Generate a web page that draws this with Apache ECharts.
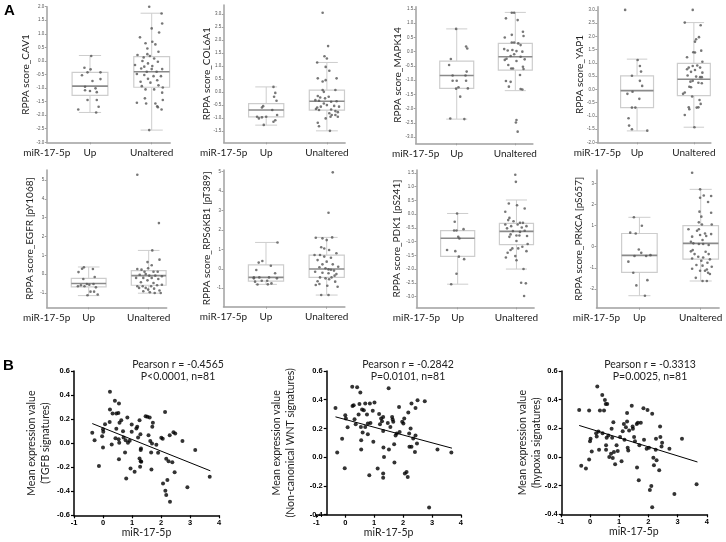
<!DOCTYPE html>
<html><head><meta charset="utf-8">
<script src="https://cdn.jsdelivr.net/npm/echarts@6/dist/echarts.min.js"></script>
<style>html,body{margin:0;padding:0;background:#fff}#c{width:726px;height:542px}</style>
</head><body><div id="c"></div>
<script>
// ---------- DATA ----------
const catLabels = ['miR-17-5p', 'Up', 'Unaltered'];
const catLabelPos = [-0.7, 0, 1];
const catTickPos = [0, 1];

// box stats: [min whisker, Q1, median, Q3, max whisker] for Up, Unaltered
const CAV1_box = [[-1.9, -1.27, -0.93, -0.42, 0.2], [-2.55, -0.97, -0.40, 0.16, 1.76]];
const COL6A1_box = [[-1.27, -0.95, -0.69, -0.44, 0.2], [-1.49, -0.69, -0.35, 0.08, 1.14]];
const MAPK14_box = [[-2.37, -1.29, -0.84, -0.33, 0.80], [-1.37, -0.65, -0.18, 0.29, 1.38]];
const YAP1_box = [[-1.57, -0.69, -0.05, 0.51, 1.14], [-1.43, -0.24, 0.38, 0.98, 2.52]];
const EGFR_box = [[-1.14, -0.68, -0.50, -0.22, 0.38], [-1.01, -0.59, -0.08, 0.19, 1.26]];
const RPS6KB1_box = [[-0.80, -0.63, -0.44, 0.20, 1.36], [-1.35, -0.44, -0.01, 0.71, 1.62]];
const PDK1_box = [[-2.55, -1.54, -0.88, -0.60, 0.02], [-2.00, -1.11, -0.63, -0.34, 0.51]];
const PRKCA_box = [[-2.33, -1.22, -0.41, 0.63, 1.40], [-1.63, -0.59, 0.16, 1.00, 2.73]];

// points: [jitter, value]
const CAV1_up = [[0.02,0.18],[-0.09,-0.25],[0.01,-0.31],[-0.04,-0.42],[0.17,-0.42],[-0.13,-0.53],[0.17,-0.67],[0.04,-0.74],[-0.08,-0.95],[0.09,-1.01],[-0.08,-1.08],[0,-1.11],[0.11,-1.15],[-0.04,-1.44],[0.11,-1.44],[0.14,-1.69],[-0.19,-1.79],[0.10,-1.9]];
const CAV1_un = [[-0.04,2.0],[0.16,1.75],[0.17,1.38],[0,1.2],[0.12,1.05],[-0.19,0.87],[0.01,0.71],[-0.10,0.65],[0.06,0.61],[-0.07,0.46],[0.11,0.34],[-0.07,0.25],[-0.23,0.22],[-0.03,0.18],[-0.13,0.13],[0.04,0.09],[-0.15,0.0],[0.10,-0.03],[-0.06,-0.09],[-0.27,-0.15],[0.01,-0.19],[-0.12,-0.21],[-0.17,-0.28],[0,-0.30],[0.17,-0.30],[-0.08,-0.40],[0.08,-0.40],[-0.24,-0.48],[-0.12,-0.52],[0.03,-0.56],[0.15,-0.56],[-0.06,-0.66],[0.09,-0.71],[-0.18,-0.77],[-0.02,-0.80],[0.11,-0.90],[-0.16,-0.93],[0.18,-0.98],[0.04,-1.05],[-0.10,-1.05],[0.17,-1.17],[-0.11,-1.38],[-0.24,-1.54],[-0.09,-1.57],[0.06,-1.57],[0.18,-1.44],[0.09,-1.67],[0.10,-1.71],[0.16,-1.79],[-0.04,-2.55]];
const COL6A1_up = [[0.12,0.2],[0.15,-0.03],[0.13,-0.18],[0.17,-0.33],[-0.05,-0.54],[-0.07,-0.59],[0.10,-0.69],[-0.15,-0.95],[-0.07,-0.97],[0,-0.95],[0.18,-0.88],[-0.12,-1.01],[0.15,-1.08],[-0.04,-1.26],[0.12,-1.14]];
const COL6A1_un = [[-0.07,3.05],[0.02,1.77],[-0.04,1.38],[0,1.29],[-0.16,1.14],[-0.02,0.97],[0.04,0.82],[-0.02,0.46],[-0.15,0.53],[-0.07,0.41],[0.16,0.53],[-0.07,0.08],[-0.05,0.01],[0.14,0.08],[-0.15,-0.15],[-0.11,-0.21],[-0.03,-0.24],[0.03,-0.18],[-0.19,-0.31],[-0.13,-0.33],[0.07,-0.37],[0.16,-0.35],[-0.05,-0.44],[0,-0.50],[0.12,-0.53],[0.20,-0.56],[-0.16,-0.59],[-0.10,-0.56],[0.07,-0.67],[-0.13,-0.69],[-0.18,-0.65],[0.14,-0.73],[0.18,-0.77],[0.04,-0.81],[0.14,-0.88],[0.06,-0.95],[-0.02,-1.01],[0.18,-0.95],[0.08,-0.88],[-0.15,-1.18],[-0.13,-1.31],[0.05,-1.49]];
const MAPK14_up = [[-0.01,0.80],[0.16,0.18],[0.18,0.11],[-0.10,-0.26],[-0.13,-0.47],[-0.07,-0.84],[0.17,-0.70],[0.15,-0.84],[0,-1.02],[-0.07,-1.02],[0.16,-1.02],[0.03,-1.25],[-0.01,-1.30],[0.19,-1.29],[0.06,-1.58],[-0.11,-2.35],[0.13,-2.37]];
const MAPK14_un = [[-0.06,1.37],[-0.02,1.37],[-0.16,1.17],[0.04,1.11],[0.13,0.70],[-0.06,0.59],[-0.18,0.50],[0.14,0.55],[-0.06,0.32],[-0.02,0.32],[0.05,0.29],[0.09,0.23],[-0.19,0.09],[-0.05,0.06],[0.02,0.02],[0.12,0.0],[-0.13,0.04],[-0.02,-0.09],[-0.08,-0.15],[0.09,-0.18],[-0.15,-0.25],[-0.18,-0.29],[0.02,-0.33],[0.16,-0.27],[-0.12,-0.47],[-0.07,-0.59],[-0.04,-0.59],[0.13,-0.53],[0.14,-0.61],[0.08,-0.82],[-0.16,-1.03],[-0.08,-1.06],[-0.11,-1.23],[0.09,-1.31],[0.12,-1.33],[0.02,-2.40],[0.01,-2.49],[0.04,-2.81]];
const YAP1_up = [[-0.21,3.0],[0.01,1.11],[0.05,0.88],[0.07,0.67],[-0.09,0.51],[0.05,0.32],[0.09,0.13],[-0.08,-0.09],[-0.17,-0.17],[0.04,-0.36],[-0.09,-0.69],[-0.03,-0.69],[-0.15,-1.09],[-0.14,-1.37],[-0.09,-1.51],[0.18,-1.56]];
const YAP1_un = [[-0.02,3.0],[-0.16,2.52],[0.12,2.42],[0.04,1.89],[0.09,1.97],[0.02,1.80],[0.13,1.46],[-0.01,1.40],[0.02,1.39],[-0.12,1.21],[0.15,1.04],[-0.02,0.88],[-0.09,0.82],[0.06,0.90],[0.11,0.82],[-0.12,0.76],[0.02,0.73],[-0.05,0.66],[0.15,0.63],[-0.11,0.52],[0.04,0.48],[0.11,0.46],[0.14,0.46],[-0.02,0.32],[-0.06,0.29],[0.08,0.25],[0.14,0.23],[-0.08,0.10],[-0.05,0.08],[-0.16,-0.12],[-0.19,-0.17],[-0.03,-0.27],[0.10,-0.40],[0.12,-0.55],[0.08,-0.68],[-0.09,-0.68],[-0.08,-0.75],[0.05,-0.69],[-0.16,-0.97],[0.01,-1.43]];
const EGFR_up = [[-0.08,0.36],[-0.11,0.29],[0.07,0.27],[-0.17,0.11],[0.10,-0.15],[-0.09,-0.26],[-0.03,-0.52],[-0.13,-0.59],[0.01,-0.56],[0.08,-0.52],[-0.18,-0.64],[-0.07,-0.64],[0.12,-0.70],[0.03,-0.93],[0.09,-0.93],[0.15,-1.08],[-0.02,-1.12]];
const EGFR_un = [[-0.19,5.28],[0.17,2.71],[0.06,1.26],[0.18,0.77],[-0.02,0.64],[0.05,0.47],[-0.19,0.27],[-0.12,0.24],[-0.01,0.31],[-0.07,0.13],[0.08,0.13],[0.15,0.13],[-0.15,-0.03],[-0.05,0.01],[0.01,-0.08],[0.11,-0.08],[0.22,-0.11],[-0.21,-0.20],[-0.09,-0.20],[0.05,-0.20],[0.16,-0.26],[-0.02,-0.33],[-0.13,-0.43],[0.08,-0.47],[0.22,-0.56],[0.14,-0.59],[-0.19,-0.64],[-0.10,-0.64],[0.04,-0.64],[-0.16,-0.73],[-0.05,-0.73],[-0.01,-0.82],[0.09,-0.77],[-0.09,-0.91],[0.18,-0.87],[0.02,-0.96],[0.10,-1.00],[0.20,-1.00]];
const RPS6KB1_up = [[0.19,1.36],[-0.12,0.32],[-0.06,0.40],[0.08,0.16],[-0.16,-0.06],[0.15,-0.23],[-0.2,-0.44],[-0.20,-0.49],[-0.11,-0.44],[0.05,-0.44],[0.18,-0.49],[-0.18,-0.66],[-0.07,-0.61],[0.02,-0.61],[0.09,-0.75],[-0.14,-0.81],[0.03,-0.80]];
const RPS6KB1_un = [[0.10,4.97],[0.03,2.89],[-0.18,1.60],[-0.07,1.57],[0.09,1.62],[0,1.48],[-0.09,1.11],[-0.04,1.05],[0.04,0.97],[-0.20,0.71],[-0.11,0.71],[0.16,0.80],[-0.04,0.63],[0.07,0.57],[-0.15,0.45],[0,0.37],[-0.07,0.23],[0.10,0.23],[0.19,0.11],[-0.12,0.08],[-0.02,0.03],[0.03,-0.03],[0.07,-0.05],[0.12,-0.09],[-0.19,-0.15],[-0.07,-0.20],[0.03,-0.23],[0.16,-0.27],[-0.11,-0.44],[0.08,-0.44],[0.13,-0.35],[-0.02,-0.49],[0.04,-0.54],[-0.15,-0.64],[0.14,-0.66],[-0.12,-0.78],[0.01,-0.87],[0.18,-0.92],[-0.18,-0.83],[-0.09,-1.35],[0.03,-1.35]];
const PDK1_up = [[-0.01,0.02],[-0.05,-0.28],[-0.06,-0.60],[-0.02,-0.60],[0.10,-0.55],[0.01,-0.83],[0.03,-0.89],[-0.18,-1.31],[-0.04,-1.35],[0.02,-1.55],[0.11,-1.64],[-0.02,-2.17],[-0.11,-2.55]];
const PDK1_un = [[-0.02,1.43],[-0.01,1.17],[-0.13,0.38],[0.01,0.32],[-0.19,0.08],[0.14,0.20],[-0.12,-0.14],[-0.14,-0.22],[-0.05,-0.26],[0.06,-0.32],[0.11,-0.32],[-0.19,-0.38],[0.02,-0.38],[-0.09,-0.44],[0.17,-0.44],[-0.16,-0.52],[0.09,-0.49],[-0.06,-0.62],[0.06,-0.65],[0.14,-0.61],[-0.10,-0.74],[0,-0.78],[0.05,-0.78],[0.18,-0.80],[-0.12,-0.83],[0,-0.98],[0.19,-1.09],[0.10,-1.19],[-0.07,-1.25],[-0.10,-1.31],[0.17,-1.35],[0.03,-1.25],[-0.15,-1.41],[-0.02,-1.53],[-0.18,-1.58],[0,-1.68],[0.12,-2.00],[0.08,-2.50],[0.16,-2.52],[0.13,-2.98]];
const PRKCA_up = [[-0.09,1.40],[0.04,1.00],[-0.15,0.67],[-0.06,0.63],[-0.01,-0.13],[0.03,-0.29],[-0.08,-0.44],[0.11,-0.44],[0.18,-0.40],[-0.18,-0.71],[-0.10,-1.24],[0.13,-1.59],[-0.05,-1.84],[0.09,-2.33]];
const PRKCA_un = [[-0.14,3.52],[-0.01,2.73],[0.05,2.44],[0.17,2.41],[-0.01,2.33],[0.12,2.13],[0.17,1.62],[-0.02,1.67],[0.01,1.43],[-0.03,1.16],[0.02,1.06],[0.18,1.06],[-0.20,0.83],[-0.03,0.83],[-0.06,0.76],[0.07,0.63],[0.17,0.60],[-0.14,0.48],[-0.01,0.56],[0.09,0.51],[0.03,0.32],[-0.16,0.24],[-0.12,0.16],[-0.03,0.13],[0.04,0.13],[0.13,0.08],[-0.13,-0.16],[-0.16,-0.22],[0.08,-0.24],[-0.10,-0.35],[0.13,-0.35],[-0.04,-0.48],[0.04,-0.51],[-0.14,-0.56],[0.01,-0.67],[0.15,-0.60],[0.11,-0.76],[-0.07,-0.87],[0.03,-0.90],[0.18,-0.95],[-0.14,-1.05],[0.10,-1.08],[-0.01,-1.14],[0.07,-1.14],[0.12,-1.24],[0.15,-1.30],[-0.08,-1.48],[0.03,-1.63],[0.10,-1.63]];

// y tick labels
const CAV1_ticks = [-3.0,-2.5,-2.0,-1.5,-1.0,-0.5,0.0,0.5,1.0,1.5,2.0];
const COL6A1_ticks = [-1.5,-1.0,-0.5,0.0,0.5,1.0,1.5,2.0,2.5,3.0];
const MAPK14_ticks = [-3.0,-2.5,-2.0,-1.5,-1.0,-0.5,0.0,0.5,1.0,1.5];
const YAP1_ticks = [-2.0,-1.5,-1.0,-0.5,0.0,0.5,1.0,1.5,2.0,2.5,3.0];
const EGFR_ticks = [-1,0,1,2,3,4,5];
const RPS6KB1_ticks = [-1,0,1,2,3,4,5];
const PDK1_ticks = [-3.0,-2.5,-2.0,-1.5,-1.0,-0.5,0.0,0.5,1.0,1.5];
const PRKCA_ticks = [-2,-1,0,1,2,3];

// Panel B scatter data [miR-17-5p, mean expression]
const TGFB_pts = [[-0.37,0.086],[-0.29,0.025],[-0.14,-0.19],[-0.03,0.058],[0,-0.036],[0.01,0.094],[0.07,0.158],[0.0,0.116],[0.23,0.175],[0.24,0.427],[0.24,0.28],[0.33,0.246],[0.30,-0.011],[0.41,0.352],[0.46,0.246],[0.55,0.33],[0.53,0.25],[0.43,0.04],[0.46,0.12],[0.57,0.17],[0.63,0.19],[0.54,0.033],[0.56,0.003],[0.55,-0.133],[0.69,0.10],[0.71,0.047],[0.78,0.025],[0.76,-0.078],[0.80,-0.294],[0.84,0.213],[0.86,0.003],[0.92,0.019],[0.95,-0.21],[0.99,0.155],[0.99,0.094],[1.09,-0.238],[1.15,0.122],[1.18,0.136],[1.21,0.047],[1.26,0.19],[1.29,0.075],[1.31,-0.044],[1.30,-0.058],[1.26,-0.127],[1.30,-0.15],[1.28,-0.197],[1.32,-0.155],[1.47,0.224],[1.53,0.219],[1.57,0.066],[1.61,0.213],[1.63,0.017],[1.66,-0.078],[1.67,-0.219],[1.69,-0.003],[1.70,0.136],[1.72,0.169],[1.84,-0.014],[1.90,-0.08],[2.01,0.044],[2.06,0.036],[2.07,-0.335],[2.14,0.26],[2.15,-0.396],[2.18,-0.432],[2.18,-0.13],[2.22,-0.307],[2.26,-0.15],[2.30,0.066],[2.31,-0.488],[2.39,-0.158],[2.43,0.091],[2.49,0.08],[2.47,-0.241],[2.74,0.017],[2.91,-0.366],[3.18,-0.058],[3.68,-0.28]];
const WNT_pts = [[-0.34,0.343],[-0.28,0.032],[-0.11,0.128],[-0.02,-0.077],[0,0.292],[0.02,0.269],[0.08,0.209],[0.24,0.49],[0.25,0.357],[0.29,0.362],[0.32,0.265],[0.36,0.23],[0.41,0.487],[0.46,0.297],[0.49,0.371],[0.52,0.45],[0.54,0.211],[0.55,0.118],[0.58,0.332],[0.55,0.053],[0.60,0.172],[0.64,0.327],[0.69,0.374],[0.69,0.211],[0.75,0.297],[0.78,0.234],[0.78,0.16],[0.83,-0.125],[0.85,0.374],[0.87,0.239],[0.95,0.323],[0.97,0.107],[1.01,0.38],[1.12,-0.079],[1.17,0.30],[1.20,0.23],[1.24,0.269],[1.27,0.25],[1.31,0.28],[1.32,0.067],[1.31,0.183],[1.34,0.002],[1.31,-0.114],[1.31,-0.142],[1.47,0.239],[1.50,0.48],[1.51,0.053],[1.56,0.211],[1.62,0.28],[1.64,0.262],[1.66,0.246],[1.69,0.09],[1.70,-0.037],[1.74,0.151],[1.78,0.165],[1.86,0.35],[1.88,0.176],[1.97,0.246],[2.01,0.234],[2.04,0.269],[2.06,-0.114],[2.12,-0.102],[2.16,-0.137],[2.18,0.311],[2.21,0.165],[2.22,0.072],[2.26,0.2],[2.29,0.374],[2.29,0.072],[2.35,0.13],[2.41,0.037],[2.43,0.343],[2.43,0.151],[2.48,0.095],[2.50,0.397],[2.75,0.39],[2.90,-0.35],[3.19,0.053],[3.67,0.032]];
const HYPOXIA_pts = [[-0.37,0.328],[-0.30,-0.062],[-0.14,-0.081],[-0.03,-0.018],[-0.03,0.324],[0,0.109],[0.02,0.127],[0.06,0.039],[0.21,0.166],[0.23,0.143],[0.25,0.492],[0.29,0.178],[0.31,0.051],[0.34,0.324],[0.42,0.432],[0.43,0.166],[0.48,0.324],[0.51,0.397],[0.54,0.37],[0.55,0.051],[0.55,0.081],[0.57,0.134],[0.59,0.37],[0.63,0.15],[0.66,0],[0.72,0.023],[0.74,0.197],[0.76,0.134],[0.78,-0.007],[0.80,0.243],[0.82,0.035],[0.86,-0.051],[0.91,0.081],[0.95,0.042],[1.03,0.139],[1.08,-0.03],[1.12,0.18],[1.16,0.231],[1.18,0.12],[1.23,0.208],[1.27,0.307],[1.27,0.247],[1.29,0.065],[1.31,0.046],[1.34,0.185],[1.43,0.358],[1.46,0.213],[1.47,0.197],[1.51,0.139],[1.54,0.109],[1.60,0.231],[1.61,-0.074],[1.64,0.238],[1.67,-0.162],[1.69,0.081],[1.74,0.238],[1.83,0.34],[1.85,0.12],[1.94,0.058],[1.97,0.328],[2.02,0.065],[2.05,-0.231],[2.10,-0.203],[2.13,0.301],[2.13,-0.351],[2.17,-0.005],[2.19,-0.058],[2.25,0.051],[2.26,0.127],[2.28,-0.023],[2.37,-0.092],[2.40,0.213],[2.41,0.139],[2.45,0.074],[2.47,0.099],[2.72,0.058],[2.89,-0.259],[3.15,0.127],[3.65,-0.19]];
// regression lines (end points)
const TGFB_fit = [[-0.37,0.163],[3.70,-0.23]];
const WNT_fit = [[-0.34,0.281],[3.69,0.063]];
const HYPOXIA_fit = [[-0.37,0.22],[3.68,-0.035]];
const statsText = [
  ['Pearson r = -0.4565', 'P<0.0001, n=81'],
  ['Pearson r = -0.2842', 'P=0.0101, n=81'],
  ['Pearson r = -0.3313', 'P=0.0025, n=81']
];

// ---------- LAYOUT ----------
const panelsA = [
  {name:'RPPA score_CAV1', box:CAV1_box, up:CAV1_up, un:CAV1_un, ticks:CAV1_ticks, dec:1, left:46.8, width:123.4, top:6.7, bottom:142.3, min:-3.0, max:2.0, gap:16},
  {name:'RPPA score_COL6A1', box:COL6A1_box, up:COL6A1_up, un:COL6A1_un, ticks:COL6A1_ticks, dec:1, left:223.7, width:121.4, top:5, bottom:142.3, min:-1.93, max:3.35, gap:12},
  {name:'RPPA score_MAPK14', box:MAPK14_box, up:MAPK14_up, un:MAPK14_un, ticks:MAPK14_ticks, dec:1, left:415.7, width:117.2, top:6.7, bottom:143.3, min:-3.22, max:1.58, gap:13},
  {name:'RPPA score_YAP1', box:YAP1_box, up:YAP1_up, un:YAP1_un, ticks:YAP1_ticks, dec:1, left:597.3, width:113.6, top:6.7, bottom:142.3, min:-2.0, max:3.12, gap:13},
  {name:'RPPA score_EGFR [pY1068]', box:EGFR_box, up:EGFR_up, un:EGFR_un, ticks:EGFR_ticks, dec:0, left:46.7, width:120, top:170, bottom:307.3, min:-1.76, max:5.53, gap:11.7},
  {name:'RPPA score_RPS6KB1 [pT389]', box:RPS6KB1_box, up:RPS6KB1_up, un:RPS6KB1_un, ticks:RPS6KB1_ticks, dec:0, left:223.5, width:121.4, top:170, bottom:306.7, min:-1.95, max:5.09, gap:11.5},
  {name:'RPPA score_PDK1 [pS241]', box:PDK1_box, up:PDK1_up, un:PDK1_un, ticks:PDK1_ticks, dec:1, left:416.5, width:117.6, top:170, bottom:307.3, min:-3.39, max:1.6, gap:14.5},
  {name:'RPPA score_PRKCA [pS657]', box:PRKCA_box, up:PRKCA_up, un:PRKCA_un, ticks:PRKCA_ticks, dec:0, left:596.5, width:122.6, top:170, bottom:307.7, min:-2.9, max:3.65, gap:12.7}
];
const panelsB = [
  {name:'Mean expression value\n(TGFB signatures)', pts:TGFB_pts, fit:TGFB_fit, stats:statsText[0], left:74, width:145, bottom:515.3, min:-0.6, yOff:0, gap:21.3, statX:178},
  {name:'Mean expression value\n(Non-canonical WNT signatures)', pts:WNT_pts, fit:WNT_fit, stats:statsText[1], left:316.4, width:144.5, bottom:514.7, min:-0.4, yOff:-10.3, gap:29, statX:408},
  {name:'Mean expression value\n(hypoxia signatures)', pts:HYPOXIA_pts, fit:HYPOXIA_fit, stats:statsText[2], left:560.8, width:146, bottom:514.3, min:-0.4, yOff:-0.9, gap:18, statX:650}
];

const FONT = 'Lato, "Open Sans", sans-serif';
const grids = [], xAxes = [], yAxes = [], series = [], graphics = [];

function fmt(v, dec) {
  if (Math.abs(v) < 1e-9) v = 0;
  return dec ? v.toFixed(dec) : String(Math.round(v));
}

function renderBox(params, api) {
  const c = api.value(0);
  const lo = api.value(1), q1 = api.value(2), md = api.value(3), q3 = api.value(4), hi = api.value(5);
  const HW = 0.29, CW = 0.18;
  const P = (dx, y) => api.coord([c + dx, y]);
  const xc = P(0, 0)[0], xl = P(-HW, 0)[0], xr = P(HW, 0)[0], cl = P(-CW, 0)[0], cr = P(CW, 0)[0];
  const yLo = P(0, lo)[1], yQ1 = P(0, q1)[1], yMd = P(0, md)[1], yQ3 = P(0, q3)[1], yHi = P(0, hi)[1];
  const light = {stroke:'#cdcdcd', lineWidth:1, fill:null};
  return {type:'group', children:[
    {type:'line', shape:{x1:xc, y1:yHi, x2:xc, y2:yQ3}, style:light},
    {type:'line', shape:{x1:xc, y1:yQ1, x2:xc, y2:yLo}, style:light},
    {type:'line', shape:{x1:cl, y1:yHi, x2:cr, y2:yHi}, style:light},
    {type:'line', shape:{x1:cl, y1:yLo, x2:cr, y2:yLo}, style:light},
    {type:'rect', shape:{x:xl, y:yQ3, width:xr - xl, height:yQ1 - yQ3}, style:{stroke:'#cdcdcd', lineWidth:1.2, fill:'#fff'}},
    {type:'line', shape:{x1:xl, y1:yMd, x2:xr, y2:yMd}, style:{stroke:'#8a8a8a', lineWidth:1.6}}
  ]};
}

panelsA.forEach((p, i) => {
  grids.push({left:p.left, top:p.top, width:p.width, height:p.bottom - p.top, outerBoundsMode:'none'});
  xAxes.push({
    gridIndex:i, type:'value', min:-0.7, max:1.3,
    axisLine:{show:true, onZero:false, lineStyle:{color:'#a0a0a0', width:1.5}},
    axisTick:{show:true, customValues:catTickPos, length:2, lineStyle:{color:'#a0a0a0'}},
    axisLabel:{show:true, customValues:catLabelPos,
      formatter:v => { let k = 0; catLabelPos.forEach((q, j) => { if (Math.abs(q - v) < 1e-6) k = j; }); return catLabels[k]; },
      fontFamily:FONT, fontSize:10, color:'#222', margin:5},
    splitLine:{show:false}
  });
  yAxes.push({
    gridIndex:i, type:'value', min:p.min, max:p.max,
    name:p.name, nameLocation:'middle', nameGap:p.gap, nameMoveOverlap:false,
    nameTextStyle:{fontFamily:FONT, fontSize:10, color:'#222'},
    axisLine:{show:true, onZero:false, lineStyle:{color:'#a0a0a0', width:1.5}},
    axisTick:{show:true, customValues:p.ticks, length:2, lineStyle:{color:'#a0a0a0'}},
    axisLabel:{show:true, customValues:p.ticks, formatter:v => fmt(v, p.dec), fontSize:4.5, fontFamily:'Liberation Sans', color:'#555', margin:2.5},
    splitLine:{show:false}
  });
  series.push({type:'custom', xAxisIndex:i, yAxisIndex:i, renderItem:renderBox, silent:true, clip:false,
    data:p.box.map((b, k) => [k].concat(b)), encode:{x:0, y:[1, 2, 3, 4, 5]}, z:1});
  series.push({type:'scatter', xAxisIndex:i, yAxisIndex:i, symbolSize:2.6, silent:true, clip:false, z:2,
    itemStyle:{color:'#555'},
    data:p.up.map(d => [0 + d[0], d[1]]).concat(p.un.map(d => [1 + d[0], d[1]]))});
});

panelsB.forEach((p, j) => {
  const i = panelsA.length + j;
  const top = 371;
  grids.push({left:p.left, top:top, width:p.width, height:p.bottom - top, outerBoundsMode:'none'});
  xAxes.push({
    gridIndex:i, type:'value', min:-1, max:4, interval:1,
    name:'miR-17-5p', nameLocation:'middle', nameGap:12, nameMoveOverlap:false,
    nameTextStyle:{fontFamily:FONT, fontSize:10.5, color:'#222'},
    axisLine:{show:true, onZero:false, lineStyle:{color:'#000', width:1.5}},
    axisTick:{show:true, length:3, lineStyle:{color:'#000', width:1.2}},
    axisLabel:{fontFamily:'Liberation Sans', fontWeight:'bold', fontSize:7.5, color:'#000', margin:4, formatter:v => fmt(v, 0)},
    splitLine:{show:false}
  });
  yAxes.push({
    gridIndex:i, type:'value', min:p.min, max:0.6, interval:0.2, offset:p.yOff,
    name:p.name, nameLocation:'middle', nameGap:p.gap, nameMoveOverlap:false,
    nameTextStyle:{fontFamily:FONT, fontSize:10.5, color:'#222', lineHeight:14, align:'center'},
    axisLine:{show:true, onZero:false, lineStyle:{color:'#000', width:1.5}},
    axisTick:{show:true, length:3, lineStyle:{color:'#000', width:1.2}},
    axisLabel:{fontFamily:'Liberation Sans', fontWeight:'bold', fontSize:7.5, color:'#000', margin:4, formatter:v => fmt(v, 1)},
    splitLine:{show:false}
  });
  series.push({type:'scatter', xAxisIndex:i, yAxisIndex:i, symbolSize:4, silent:true, clip:false,
    itemStyle:{color:'#000'}, data:p.pts});
  series.push({type:'line', xAxisIndex:i, yAxisIndex:i, symbol:'none', silent:true,
    lineStyle:{color:'#000', width:1}, data:p.fit});
  graphics.push({type:'text', x:p.statX, y:365, style:{text:p.stats[0], align:'center', verticalAlign:'middle', fontFamily:FONT, fontSize:10.5, fill:'#222'}});
  graphics.push({type:'text', x:p.statX, y:377, style:{text:p.stats[1], align:'center', verticalAlign:'middle', fontFamily:FONT, fontSize:10.5, fill:'#222'}});
});

graphics.push({type:'text', x:4, y:3, style:{text:'A', fontFamily:'Liberation Sans', fontWeight:'bold', fontSize:15, fill:'#000', verticalAlign:'top'}});
graphics.push({type:'text', x:3, y:358, style:{text:'B', fontFamily:'Liberation Sans', fontWeight:'bold', fontSize:15, fill:'#000', verticalAlign:'top'}});

const chart = echarts.init(document.getElementById('c'), null, {renderer:'canvas'});
chart.setOption({
  animation:false,
  backgroundColor:'#fff',
  grid:grids, xAxis:xAxes, yAxis:yAxes, series:series, graphic:graphics
});
</script></body></html>
